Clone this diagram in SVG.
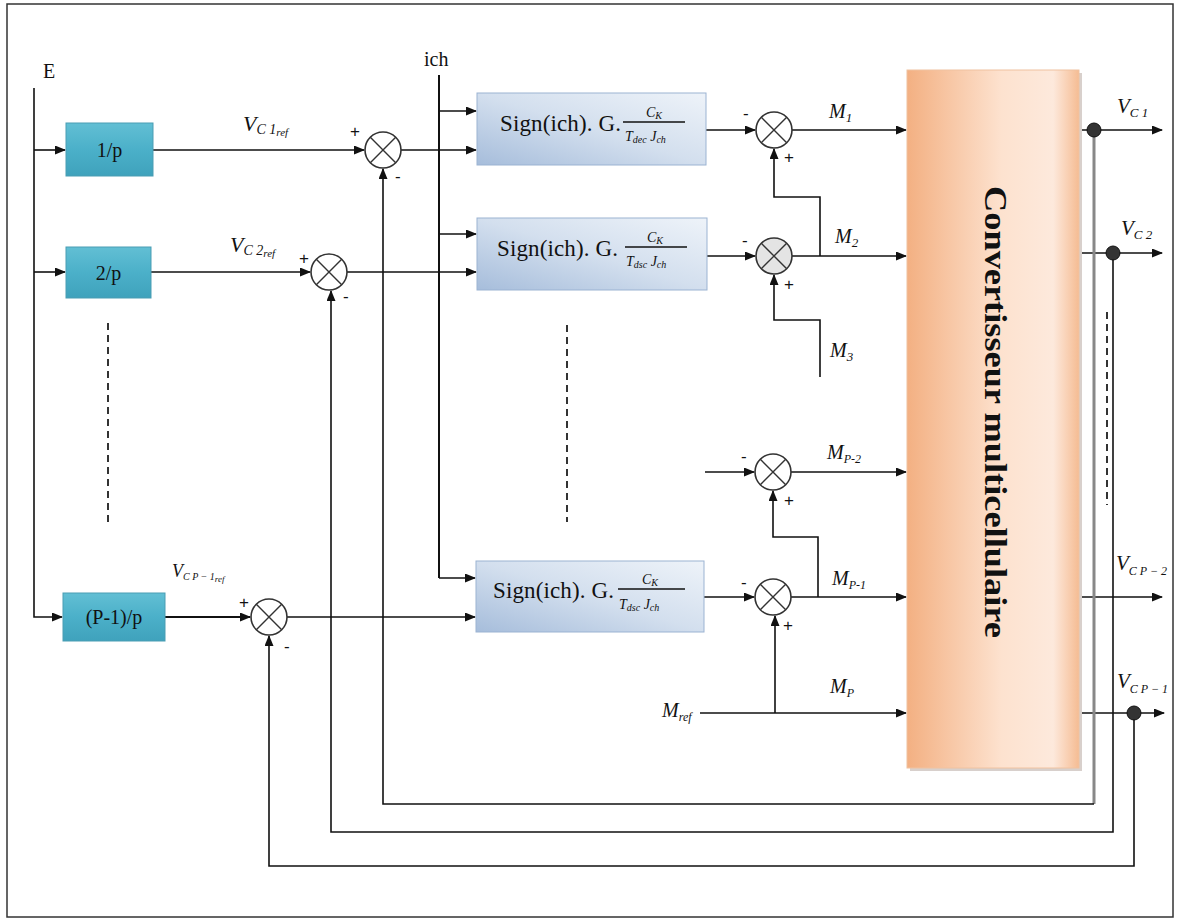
<svg xmlns="http://www.w3.org/2000/svg" width="1178" height="920" viewBox="0 0 1178 920">
<style>
.ln{fill:none;stroke:#111;stroke-width:1.6}
.lnt{fill:none;stroke:#111;stroke-width:2}
.dash{fill:none;stroke:#333;stroke-width:2;stroke-dasharray:7,5}
.sum{fill:#fff;stroke:#333;stroke-width:1.6}
.x{stroke:#333;stroke-width:1.4}
.blk{fill:url(#gTeal);stroke:#4a9db3;stroke-width:1}
.sg{fill:url(#gBlue);stroke:#9bb3d2;stroke-width:1}
.t{font-family:"Liberation Serif",serif;fill:#111}
.it{font-family:"Liberation Serif",serif;font-style:italic;fill:#111}
.pm{font-family:"Liberation Sans",sans-serif;font-size:17px;fill:#111}
.dot{fill:#333;stroke:#111;stroke-width:1}
</style>
<defs>
<linearGradient id="gTeal" x1="0" y1="0" x2="0" y2="1">
<stop offset="0" stop-color="#62bfd4"/><stop offset="0.5" stop-color="#4bb0c9"/><stop offset="1" stop-color="#3fa2bc"/>
</linearGradient>
<linearGradient id="gBlue" x1="1" y1="0" x2="0" y2="1">
<stop offset="0" stop-color="#eef3f9"/><stop offset="0.5" stop-color="#d3dfee"/><stop offset="1" stop-color="#a6bddb"/>
</linearGradient>
<linearGradient id="gOr" x1="0" y1="0" x2="1" y2="0">
<stop offset="0" stop-color="#f3b082"/><stop offset="0.55" stop-color="#fde2cf"/><stop offset="0.85" stop-color="#fde9dc"/><stop offset="1" stop-color="#f5bc93"/>
</linearGradient>
<marker id="ar" markerWidth="11" markerHeight="9" refX="10" refY="4.5" orient="auto" markerUnits="userSpaceOnUse">
<path d="M0,0 L11,4.5 L0,9 z" fill="#111"/>
</marker>
</defs>
<rect x="0" y="0" width="1178" height="920" fill="#fff"/>
<rect x="7" y="4" width="1166" height="913" fill="none" stroke="#333" stroke-width="1.5"/>

<g id="connectors">
<path class="ln" d="M34,88 V617 H62" marker-end="url(#ar)"/>
<path class="ln" d="M34,150 H65" marker-end="url(#ar)"/>
<path class="ln" d="M34,272 H65" marker-end="url(#ar)"/>
<path class="dash" d="M108,323 V525"/>
<path class="dash" d="M567,325 V522"/>
<path class="dash" d="M1107,312 V505"/>
<path class="ln" d="M153,150 H364" marker-end="url(#ar)"/>
<path class="ln" d="M151,272 H310" marker-end="url(#ar)"/>
<path class="lnt" d="M165,617 H250" marker-end="url(#ar)"/>
<path class="ln" d="M401,150 H476" marker-end="url(#ar)"/>
<path class="ln" d="M347,272 H476" marker-end="url(#ar)"/>
<path class="ln" d="M287,617 H475" marker-end="url(#ar)"/>
<path class="lnt" d="M439,75 V578"/>
<path class="ln" d="M439,111 H476" marker-end="url(#ar)"/>
<path class="ln" d="M439,234 H476" marker-end="url(#ar)"/>
<path class="ln" d="M439,578 H475" marker-end="url(#ar)"/>
<path class="ln" d="M706,130 H755" marker-end="url(#ar)"/>
<path class="ln" d="M707,256 H755" marker-end="url(#ar)"/>
<path class="ln" d="M705,472 H754" marker-end="url(#ar)"/>
<path class="ln" d="M704,597 H754" marker-end="url(#ar)"/>
<path class="ln" d="M792,130 H906" marker-end="url(#ar)"/>
<path class="ln" d="M792,256 H906" marker-end="url(#ar)"/>
<path class="ln" d="M791,472 H906" marker-end="url(#ar)"/>
<path class="ln" d="M791,597 H906" marker-end="url(#ar)"/>
<path class="ln" d="M700,713 H906" marker-end="url(#ar)"/>
<path class="ln" d="M820,256 V197 H774 V149" marker-end="url(#ar)"/>
<path class="ln" d="M820,377 V320 H774 V275" marker-end="url(#ar)"/>
<path class="ln" d="M818,597 V537 H773 V491" marker-end="url(#ar)"/>
<path class="ln" d="M775,713 V616" marker-end="url(#ar)"/>
<path class="ln" d="M1079,130 H1162" marker-end="url(#ar)"/>
<path class="ln" d="M1079,253 H1162" marker-end="url(#ar)"/>
<path class="ln" d="M1079,597 H1162" marker-end="url(#ar)"/>
<path class="ln" d="M1079,713 H1164" marker-end="url(#ar)"/>
<path d="M1094,130 V804" fill="none" stroke="#888" stroke-width="3"/>
<path class="ln" d="M1094,804 H383 V169" marker-end="url(#ar)"/>
<path class="ln" d="M1113,253 V832 H331 V291" marker-end="url(#ar)"/>
<path class="ln" d="M1134,713 V866 H269 V636" marker-end="url(#ar)"/>
<circle class="dot" cx="1094" cy="130" r="7"/>
<circle class="dot" cx="1113" cy="253" r="7"/>
<circle class="dot" cx="1134" cy="713" r="7"/>
</g>

<g id="input-E"><text class="t" x="43" y="78" font-size="20">E</text></g>
<g id="ich"><text class="t" x="424" y="66" font-size="20">ich</text></g>

<g id="gain1"><rect class="blk" x="66" y="123" width="87" height="53"/><text class="t" x="109.5" y="157" font-size="20" text-anchor="middle">1/p</text></g>
<g id="gain2"><rect class="blk" x="66" y="247" width="85" height="51"/><text class="t" x="108.5" y="280" font-size="20" text-anchor="middle">2/p</text></g>
<g id="gainP1"><rect class="blk" x="63" y="593" width="102" height="48"/><text class="t" x="114" y="624" font-size="20" text-anchor="middle">(P-1)/p</text></g>

<g id="sum1"><circle class="sum" cx="383" cy="150" r="18"/><path class="x" d="M370.3,137.3 L395.7,162.7 M395.7,137.3 L370.3,162.7"/><text class="pm" x="350" y="137">+</text><text class="pm" x="395" y="182">-</text></g>
<g id="sum2"><circle class="sum" cx="329" cy="272" r="18"/><path class="x" d="M316.3,259.3 L341.7,284.7 M341.7,259.3 L316.3,284.7"/><text class="pm" x="299" y="264">+</text><text class="pm" x="343" y="302">-</text></g>
<g id="sum3"><circle class="sum" cx="269" cy="617" r="18"/><path class="x" d="M256.3,604.3 L281.7,629.7 M281.7,604.3 L256.3,629.7"/><text class="pm" x="239" y="608">+</text><text class="pm" x="284" y="652">-</text></g>
<g id="sumA"><circle class="sum" cx="774" cy="130" r="18"/><path class="x" d="M761.3,117.3 L786.7,142.7 M786.7,117.3 L761.3,142.7"/><text class="pm" x="743" y="119">-</text><text class="pm" x="784" y="163">+</text></g>
<g id="sumB"><circle class="sum" cx="774" cy="256" r="18" style="fill:#e4e4e4"/><path class="x" d="M761.3,243.3 L786.7,268.7 M786.7,243.3 L761.3,268.7"/><text class="pm" x="742" y="246">-</text><text class="pm" x="784" y="290">+</text></g>
<g id="sumC"><circle class="sum" cx="773" cy="472" r="18"/><path class="x" d="M760.3,459.3 L785.7,484.7 M785.7,459.3 L760.3,484.7"/><text class="pm" x="741" y="462">-</text><text class="pm" x="784" y="506">+</text></g>
<g id="sumD"><circle class="sum" cx="773" cy="597" r="18"/><path class="x" d="M760.3,584.3 L785.7,609.7 M785.7,584.3 L760.3,609.7"/><text class="pm" x="741" y="588">-</text><text class="pm" x="783" y="631">+</text></g>

<g id="ctrl1"><rect class="sg" x="477" y="93" width="229" height="72"/>
<text class="t" x="500" y="131" font-size="23" textLength="121">Sign(ich). G.</text>
<line x1="623" y1="122" x2="685" y2="122" stroke="#111" stroke-width="1.3"/>
<text class="it" x="646" y="117" font-size="14">C<tspan font-size="10" dy="2">K</tspan></text>
<text class="it" x="625" y="141" font-size="14">T<tspan font-size="10" dy="2">dec</tspan><tspan dy="-2"> J</tspan><tspan font-size="10" dy="2">ch</tspan></text></g>
<g id="ctrl2"><rect class="sg" x="477" y="218" width="230" height="72"/>
<text class="t" x="497" y="256" font-size="23" textLength="121">Sign(ich). G.</text>
<line x1="625" y1="247" x2="687" y2="247" stroke="#111" stroke-width="1.3"/>
<text class="it" x="647" y="242" font-size="14">C<tspan font-size="10" dy="2">K</tspan></text>
<text class="it" x="626" y="266" font-size="14">T<tspan font-size="10" dy="2">dsc</tspan><tspan dy="-2">  J</tspan><tspan font-size="10" dy="2">ch</tspan></text></g>
<g id="ctrl3"><rect class="sg" x="476" y="561" width="228" height="71"/>
<text class="t" x="493" y="598" font-size="23" textLength="121">Sign(ich). G.</text>
<line x1="618" y1="589" x2="685" y2="589" stroke="#111" stroke-width="1.3"/>
<text class="it" x="642" y="584" font-size="14">C<tspan font-size="10" dy="2">K</tspan></text>
<text class="it" x="619" y="609" font-size="14">T<tspan font-size="10" dy="2">dsc</tspan><tspan dy="-2">  J</tspan><tspan font-size="10" dy="2">ch</tspan></text></g>

<g id="converter">
<rect x="910" y="73" width="172" height="698" fill="#d8d0cc"/>
<rect x="907" y="70" width="172" height="698" fill="url(#gOr)" stroke="#f0c2a0" stroke-width="1"/>
<text class="t" transform="translate(985,186) rotate(90)" font-size="31" font-weight="bold" textLength="452" lengthAdjust="spacingAndGlyphs">Convertisseur multicellulaire</text>
</g>

<g id="labels">
<text class="it" x="243" y="131" font-size="22">V<tspan font-size="14" dy="3">C 1</tspan><tspan font-size="11" dy="2">ref</tspan></text>
<text class="it" x="230" y="252" font-size="22">V<tspan font-size="14" dy="3">C 2</tspan><tspan font-size="11" dy="2">ref</tspan></text>
<text class="it" x="172" y="577" font-size="18">V<tspan font-size="10" dy="3">C P − 1</tspan><tspan font-size="9" dy="2">ref</tspan></text>
<text class="it" x="829" y="118" font-size="20">M<tspan font-size="13" dy="4">1</tspan></text>
<text class="it" x="835" y="243" font-size="20">M<tspan font-size="13" dy="4">2</tspan></text>
<text class="it" x="830" y="357" font-size="20">M<tspan font-size="13" dy="4">3</tspan></text>
<text class="it" x="827" y="459" font-size="20">M<tspan font-size="12" dy="4">P-2</tspan></text>
<text class="it" x="832" y="585" font-size="20">M<tspan font-size="12" dy="4">P-1</tspan></text>
<text class="it" x="830" y="693" font-size="20">M<tspan font-size="12" dy="4">P</tspan></text>
<text class="it" x="662" y="717" font-size="20">M<tspan font-size="12" dy="4">ref</tspan></text>
<text class="it" x="1117" y="113" font-size="21">V<tspan font-size="13" dy="4">C 1</tspan></text>
<text class="it" x="1121" y="235" font-size="21">V<tspan font-size="13" dy="4">C 2</tspan></text>
<text class="it" x="1116" y="570" font-size="21">V<tspan font-size="12" dy="5">C P − 2</tspan></text>
<text class="it" x="1117" y="688" font-size="21">V<tspan font-size="12" dy="5">C P − 1</tspan></text>
</g>
</svg>
